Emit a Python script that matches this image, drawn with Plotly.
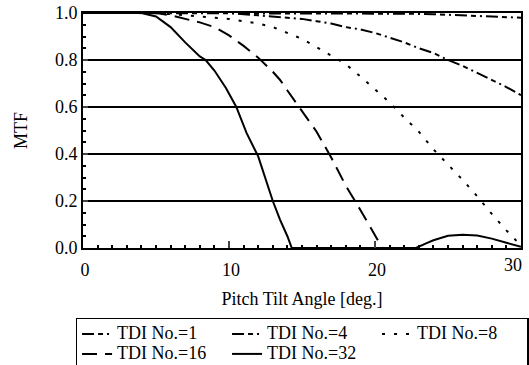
import plotly.graph_objects as go

# Pitch tilt angle [deg.] and MTF values
x_32 = [0, 2, 4, 5, 6, 7, 8, 8.4, 9, 9.8, 10.5, 11.2, 12, 13, 13.5, 14, 14.3, 16, 18, 20, 22, 22.8, 23.5, 24, 25, 26, 27, 28, 29, 30]
y_32 = [1.0, 1.0, 1.0, 0.985, 0.94, 0.875, 0.815, 0.8, 0.755, 0.68, 0.6, 0.49, 0.39, 0.2, 0.12, 0.05, 0.0, 0.0, 0.0, 0.0, 0.0, 0.0, 0.02, 0.033, 0.052, 0.056, 0.053, 0.04, 0.022, 0.005]

x_16 = [0, 5, 6, 7, 8, 9, 10, 11, 12, 13, 13.5, 14, 15, 16, 17, 18, 19, 20, 20.5]
y_16 = [1.0, 1.0, 0.99, 0.975, 0.96, 0.94, 0.905, 0.86, 0.81, 0.75, 0.715, 0.67, 0.585, 0.495, 0.385, 0.265, 0.162, 0.055, 0.0]

x_8 = [0, 5, 6, 7, 8, 9, 10, 11, 12, 13, 14, 15, 16, 17, 18, 19, 20, 21, 22, 23, 24, 25, 26, 27, 28, 29, 30]
y_8 = [1.0, 1.0, 0.995, 0.99, 0.985, 0.98, 0.975, 0.965, 0.955, 0.94, 0.915, 0.89, 0.855, 0.82, 0.782, 0.73, 0.676, 0.62, 0.555, 0.495, 0.42, 0.355, 0.29, 0.22, 0.145, 0.075, 0.01]

x_4 = [0, 10, 12, 14, 15, 16, 17, 18, 19, 20, 21, 22, 23, 24, 25, 26, 27, 28, 29, 30]
y_4 = [1.0, 1.0, 0.99, 0.98, 0.975, 0.965, 0.955, 0.94, 0.93, 0.915, 0.895, 0.875, 0.85, 0.83, 0.8, 0.775, 0.745, 0.715, 0.685, 0.65]

x_1 = [0, 20, 22, 24, 26, 28, 30]
y_1 = [1.0, 1.0, 0.997, 0.995, 0.99, 0.985, 0.98]

names = ["TDI No.=1", "TDI No.=4", "TDI No.=8", "TDI No.=16", "TDI No.=32"]
x_ticks = [0, 10, 20, 30]
x_ticktext = ["0", "10", "20", "30"]
y_ticks = [0.0, 0.2, 0.4, 0.6, 0.8, 1.0]

FONT = "Liberation Serif, Times New Roman, serif"
TICKFONT = dict(family=FONT, size=18, color="black")

series = [
    (x_1, y_1, "12px,4px,5px,4px,2px,4px"),
    (x_4, y_4, "12px,4px,5px,4px,2px,4px"),
    (x_8, y_8, "3px,9px"),
    (x_16, y_16, "15px,8px"),
    (x_32, y_32, "solid"),
]

fig = go.Figure()
for i, ((xs, ys, dash), name) in enumerate(zip(series, names)):
    fig.add_trace(go.Scatter(x=xs, y=ys, mode="lines",
                             xaxis="x2" if i == 0 else "x", yaxis="y",
                             name='<span style="font-size:18px">' + name + "</span>",
                             line=dict(color="black", width=2, dash=dash)))

fig.update_layout(
    width=529, height=365,
    margin=dict(l=83, r=8, t=13, b=117, autoexpand=False),
    paper_bgcolor="white", plot_bgcolor="white",
    font=dict(family=FONT, size=18, color="black"),
    showlegend=True,
    legend=dict(orientation="h", x=-0.017, xanchor="left", y=-0.296, yanchor="top",
                bordercolor="black", borderwidth=1.5, bgcolor="white",
                font=dict(family=FONT, size=13, color="black"), entrywidth=105,
                tracegroupgap=0, itemwidth=30),
    xaxis=dict(
        range=[0, 30], tickvals=x_ticks[:-1], ticktext=x_ticktext[:-1],
        ticks="inside", ticklen=7, tickwidth=2, ticklabelshift=2,
        showline=True, linecolor="black", linewidth=2, mirror=True, automargin=False,
        showgrid=False, zeroline=False, ticklabelstandoff=4,
        minor=dict(ticks="inside", ticklen=3, dtick=1, tickcolor="black", showgrid=False),
        title=dict(text="Pitch Tilt Angle [deg.]", standoff=14,
                   font=dict(family=FONT, size=18, color="black")),
        tickfont=TICKFONT,
    ),
    xaxis2=dict(
        matches="x", overlaying="x", anchor="y", side="bottom",
        tickvals=x_ticks[-1:], ticktext=x_ticktext[-1:], ticks="",
        ticklabelshift=-8, ticklabelstandoff=4, ticklabeloverflow="allow",
        showline=False, showgrid=False, zeroline=False, automargin=False,
        tickfont=TICKFONT,
    ),
    yaxis=dict(
        range=[0, 1.0], tickvals=y_ticks, tickformat=".1f", ticks="inside", ticklen=5, tickwidth=2,
        showline=True, linecolor="black", linewidth=2, mirror=True, automargin=False,
        showgrid=True, gridcolor="black", gridwidth=2, zeroline=False,
        minor=dict(ticks="inside", ticklen=3, dtick=0.05, tickcolor="black", showgrid=False),
        title=dict(text="MTF", standoff=23, font=dict(family=FONT, size=18, color="black")),
        tickfont=TICKFONT,
    ),
)

fig.write_html("out.html", config={"displayModeBar": False},
               post_script="document.body.style.margin='0';")
